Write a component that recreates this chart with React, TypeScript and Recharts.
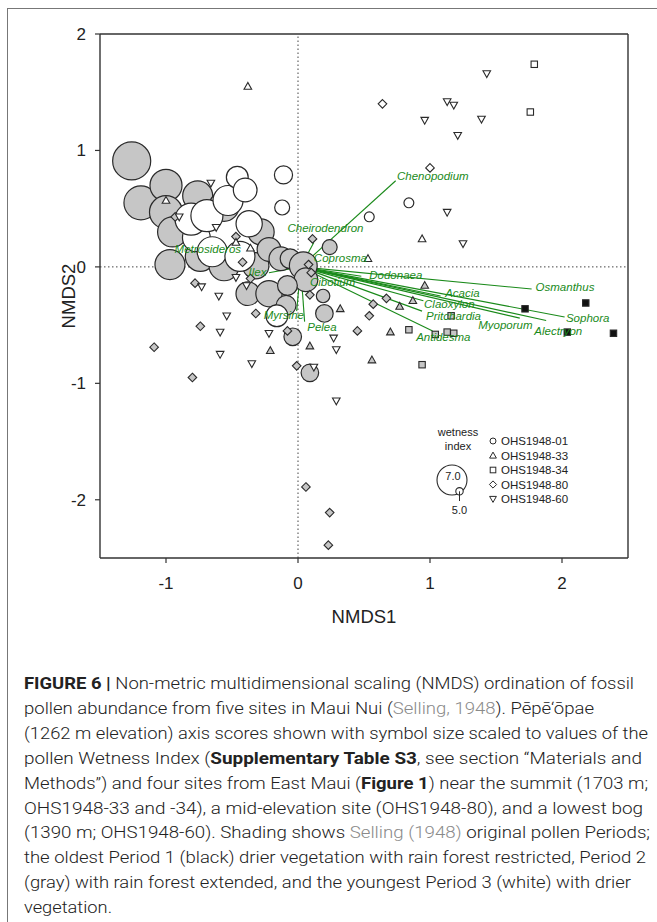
import React from 'react';
import { ScatterChart, Scatter, XAxis, YAxis, ReferenceLine } from 'recharts';

// ---- data -------------------------------------------------------------
// Pēpē'ōpae (OHS1948-01): [NMDS1, NMDS2, wetness index, period]
const site01: [number, number, number, string][] = [
  [-1.26, 0.91, 8.3, 'g'],
  [-1.19, 0.55, 7.6, 'g'],
  [-1.0, 0.7, 7.3, 'g'],
  [-1.0, 0.47, 7.45, 'g'],
  [-0.76, 0.61, 7.0, 'g'],
  [-0.95, 0.3, 7.0, 'g'],
  [-0.97, 0.02, 7.0, 'g'],
  [-0.56, 0.52, 7.0, 'g'],
  [-0.28, 0.3, 6.5, 'g'],
  [-0.74, 0.09, 7.0, 'g'],
  [-0.56, 0.01, 7.0, 'g'],
  [-0.32, 0.01, 6.5, 'g'],
  [-0.22, 0.15, 6.2, 'g'],
  [-0.13, 0.07, 6.2, 'g'],
  [-0.06, 0.07, 5.8, 'g'],
  [0.04, 0.01, 6.7, 'g'],
  [0.06, -0.11, 6.2, 'g'],
  [-0.38, -0.23, 6.2, 'g'],
  [-0.22, -0.23, 6.5, 'g'],
  [-0.08, -0.16, 5.8, 'g'],
  [-0.09, -0.33, 5.8, 'g'],
  [0.19, -0.25, 5.3, 'g'],
  [0.2, -0.4, 5.6, 'g'],
  [-0.04, -0.6, 5.6, 'g'],
  [0.09, -0.91, 5.6, 'g'],
  [0.24, 0.17, 5.4, 'g'],
  [-0.77, 0.25, 6.7, 'w'],
  [-0.81, 0.41, 7.3, 'w'],
  [-0.69, 0.44, 7.3, 'w'],
  [-0.53, 0.57, 7.0, 'w'],
  [-0.46, 0.77, 6.0, 'w'],
  [-0.4, 0.66, 6.2, 'w'],
  [-0.37, 0.37, 6.5, 'w'],
  [-0.11, 0.79, 5.65, 'w'],
  [-0.12, 0.51, 5.4, 'w'],
  [-0.65, 0.13, 7.0, 'w'],
  [-0.44, 0.09, 7.0, 'w'],
  [-0.16, -0.42, 6.0, 'w'],
  [0.84, 0.55, 5.1, 'w'],
  [0.54, 0.43, 5.1, 'w'],
];

// OHS1948-33 (triangle up): [NMDS1, NMDS2, period]
const site33: [number, number, string][] = [
  [-0.38, 1.55, 'w'], [-1.0, 0.57, 'w'], [-0.47, 0.21, 'w'], [-0.36, 0.16, 'w'],
  [0.94, 0.24, 'w'], [0.53, 0.07, 'w'], [0.96, -0.16, 'g'], [0.87, -0.29, 'g'],
  [0.77, -0.34, 'g'], [0.32, -0.36, 'g'], [0.7, -0.56, 'g'], [0.09, -0.68, 'g'],
  [0.56, -0.8, 'g'], [-0.21, -0.72, 'g'],
];

// OHS1948-34 (square)
const site34: [number, number, string][] = [
  [1.79, 1.74, 'w'], [1.76, 1.33, 'w'], [1.16, -0.42, 'g'], [0.84, -0.54, 'g'],
  [1.04, -0.58, 'g'], [1.13, -0.56, 'g'], [1.18, -0.57, 'g'], [0.94, -0.84, 'g'],
  [1.72, -0.36, 'b'], [2.18, -0.31, 'b'], [2.04, -0.56, 'b'], [2.39, -0.57, 'b'],
];

// OHS1948-80 (diamond)
const site80: [number, number, string][] = [
  [0.64, 1.4, 'w'], [1.0, 0.85, 'w'], [0.11, 0.24, 'g'], [-0.47, 0.26, 'g'],
  [-0.42, 0.04, 'g'], [-0.36, -0.1, 'g'], [-0.93, 0.43, 'g'], [0.08, 0.02, 'g'],
  [0.1, -0.05, 'g'], [0.09, -0.24, 'g'], [0.67, -0.27, 'g'], [0.57, -0.32, 'g'],
  [0.54, -0.42, 'g'], [0.45, -0.55, 'g'], [-0.08, -0.55, 'g'], [-0.01, -0.85, 'g'],
  [-0.78, -0.14, 'g'], [-0.32, -0.4, 'g'], [-0.74, -0.51, 'g'], [-1.09, -0.69, 'g'],
  [-0.8, -0.95, 'g'], [0.06, -1.89, 'g'], [0.24, -2.11, 'g'], [0.23, -2.39, 'g'],
];

// OHS1948-60 (triangle down)
const site60: [number, number, string][] = [
  [1.43, 1.66, 'w'], [1.13, 1.42, 'w'], [1.18, 1.39, 'w'], [0.96, 1.26, 'w'],
  [1.39, 1.27, 'w'], [1.21, 1.13, 'w'], [1.13, 0.47, 'w'], [1.25, 0.2, 'w'],
  [-0.66, 0.72, 'w'], [-0.9, 0.43, 'w'], [-0.62, 0.34, 'w'], [-0.47, -0.09, 'w'],
  [-0.39, -0.16, 'w'], [-0.73, -0.17, 'w'], [-0.6, -0.25, 'w'], [-0.54, -0.42, 'w'],
  [-0.59, -0.56, 'w'], [-0.22, -0.57, 'w'], [-0.59, -0.75, 'w'], [-0.35, -0.83, 'w'],
  [0.27, -0.61, 'w'], [0.29, -0.71, 'w'], [0.12, -0.86, 'w'], [0.29, -1.15, 'w'],
];

// Taxa vectors: [name, endX, endY, labelX, labelY]
const vectorOrigin = [0.02, 0.0];
const taxa: [string, number, number, number, number][] = [
  ['Chenopodium', 0.74, 0.74, 0.75, 0.78],
  ['Cheirodendron', 0.12, 0.21, -0.08, 0.33],
  ['Coprosma', 0.09, 0.06, 0.12, 0.075],
  ['Metrosideros', -0.4, 0.12, -0.935, 0.15],
  ['Ilex', -0.22, -0.05, -0.375, -0.045],
  ['Myrsine', -0.01, -0.38, -0.26, -0.41],
  ['Pelea', 0.05, -0.47, 0.07, -0.52],
  ['Cibotium', 0.1, -0.06, 0.09, -0.13],
  ['Dodonaea', 0.48, -0.08, 0.54, -0.07],
  ['Osmanthus', 1.77, -0.19, 1.8, -0.17],
  ['Acacia', 1.08, -0.25, 1.115, -0.225],
  ['Claoxylon', 0.95, -0.29, 0.955, -0.32],
  ['Pritchardia', 0.94, -0.38, 0.97, -0.42],
  ['Antidesma', 1.02, -0.55, 0.895, -0.6],
  ['Myoporum', 1.68, -0.44, 1.365, -0.5],
  ['Alectryon', 1.88, -0.46, 1.79, -0.55],
  ['Sophora', 2.02, -0.43, 2.03, -0.44],
];

const xTicks = [-1, 0, 1, 2];
const yTicks = [-2, -1, 0, 1, 2];
const siteNames = ['OHS1948-01', 'OHS1948-33', 'OHS1948-34', 'OHS1948-80', 'OHS1948-60'];
const wetnessLegend = [7.0, 5.0];

// ---- styling ------------------------------------------------------------
const FONT = 'Liberation Sans, Arial, Helvetica, sans-serif';
const GREEN = '#1a8a1a';
const STROKE = '#2a2a2a';
// symbol area scales linearly with wetness index (5.0 -> 43 px², 7.0 -> 707 px²)
const Z_DOMAIN: [number, number] = [5, 7];
const Z_RANGE: [number, number] = [43, 707];
const fillOf = (p: string) => (p === 'b' ? '#111' : p === 'g' ? '#c6c6c6' : '#fff');
const radiusOf = (z: number) => {
  const area = Z_RANGE[0] + ((z - Z_DOMAIN[0]) / (Z_DOMAIN[1] - Z_DOMAIN[0])) * (Z_RANGE[1] - Z_RANGE[0]);
  return Math.sqrt(Math.max(area, 1) / Math.PI);
};

const d01 = site01.map(([x, y, z, p]) => ({ x, y, z, p }));
const d33 = site33.map(([x, y, p]) => ({ x, y, p }));
const d34 = site34.map(([x, y, p]) => ({ x, y, p }));
const d80 = site80.map(([x, y, p]) => ({ x, y, p }));
const d60 = site60.map(([x, y, p]) => ({ x, y, p }));
const dLabels = taxa.map(([name, , , lx, ly]) => ({ x: lx, y: ly, name }));

const CircleShape = (props: any) => {
  const { cx, cy, payload } = props;
  if (cx == null || cy == null) return <g />;
  const r = radiusOf(payload.z);
  return <circle cx={cx} cy={cy} r={r} fill={fillOf(payload.p)} stroke={STROKE} strokeWidth={1.2} />;
};

const TriUp = (props: any) => {
  const { cx, cy, payload } = props;
  if (cx == null || cy == null) return <g />;
  const s = 4;
  return (
    <polygon
      points={`${cx},${cy - s} ${cx - s * 0.95},${cy + s * 0.7} ${cx + s * 0.95},${cy + s * 0.7}`}
      fill={fillOf(payload.p)} stroke={STROKE} strokeWidth={1.1}
    />
  );
};

const TriDown = (props: any) => {
  const { cx, cy, payload } = props;
  if (cx == null || cy == null) return <g />;
  const s = 4;
  return (
    <polygon
      points={`${cx},${cy + s} ${cx - s * 0.95},${cy - s * 0.7} ${cx + s * 0.95},${cy - s * 0.7}`}
      fill={fillOf(payload.p)} stroke={STROKE} strokeWidth={1.1}
    />
  );
};

const SquareShape = (props: any) => {
  const { cx, cy, payload } = props;
  if (cx == null || cy == null) return <g />;
  const s = 3.2;
  return <rect x={cx - s} y={cy - s} width={2 * s} height={2 * s} fill={fillOf(payload.p)} stroke={STROKE} strokeWidth={1.1} />;
};

const DiamondShape = (props: any) => {
  const { cx, cy, payload } = props;
  if (cx == null || cy == null) return <g />;
  const s = 4.3;
  return (
    <polygon
      points={`${cx},${cy - s} ${cx + s},${cy} ${cx},${cy + s} ${cx - s},${cy}`}
      fill={fillOf(payload.p)} stroke={STROKE} strokeWidth={1.1}
    />
  );
};

const LabelShape = (props: any) => {
  const { cx, cy, payload } = props;
  if (cx == null || cy == null) return <g />;
  return (
    <text x={cx} y={cy} dy="0.35em" fill={GREEN} fontSize={11.5} fontStyle="italic" fontFamily={FONT} textAnchor="start">
      {payload.name}
    </text>
  );
};

// ---- legend (drawn in page coordinates) -----------------------------------
const WetnessLegend = () => {
  const bigR = radiusOf(wetnessLegend[0]);
  const smallR = radiusOf(wetnessLegend[1]);
  const bottom = 495;
  const bigCx = 452;
  const smallCx = 459.5;
  const rows = [441, 455.5, 470, 484.5, 499];
  const symX = 493;
  return (
    <svg width={657} height={640} style={{ position: 'absolute', left: 0, top: 0, pointerEvents: 'none' }}>
      <g fontFamily={FONT} fontSize={11} fill="#222">
        <text x={458} y={432} textAnchor="middle" dy="0.35em">wetness</text>
        <text x={458} y={446} textAnchor="middle" dy="0.35em">index</text>
        <circle cx={bigCx} cy={bottom - bigR} r={bigR} fill="none" stroke={STROKE} strokeWidth={1.1} />
        <text x={bigCx + 1} y={476} textAnchor="middle" dy="0.35em">{wetnessLegend[0].toFixed(1)}</text>
        <circle cx={smallCx} cy={bottom - smallR} r={smallR} fill="#fff" stroke={STROKE} strokeWidth={1.1} />
        <line x1={smallCx} y1={bottom - smallR} x2={smallCx} y2={501} stroke={STROKE} strokeWidth={1} />
        <text x={smallCx} y={510} textAnchor="middle" dy="0.35em">{wetnessLegend[1].toFixed(1)}</text>
        {siteNames.map((n, i) => (
          <text key={n} x={501} y={rows[i]} dy="0.35em" fontSize={11.5}>{n}</text>
        ))}
        <circle cx={symX} cy={rows[0]} r={3} fill="#fff" stroke={STROKE} strokeWidth={1} />
        <polygon points={`${symX},${rows[1] - 3.4} ${symX - 3.4},${rows[1] + 2.6} ${symX + 3.4},${rows[1] + 2.6}`} fill="#fff" stroke={STROKE} strokeWidth={1} />
        <rect x={symX - 2.8} y={rows[2] - 2.8} width={5.6} height={5.6} fill="#fff" stroke={STROKE} strokeWidth={1} />
        <polygon points={`${symX},${rows[3] - 3.6} ${symX + 3.6},${rows[3]} ${symX},${rows[3] + 3.6} ${symX - 3.6},${rows[3]}`} fill="#fff" stroke={STROKE} strokeWidth={1} />
        <polygon points={`${symX},${rows[4] + 3.4} ${symX - 3.4},${rows[4] - 2.6} ${symX + 3.4},${rows[4] - 2.6}`} fill="#fff" stroke={STROKE} strokeWidth={1} />
      </g>
    </svg>
  );
};

// ---- caption ----------------------------------------------------------------
type Seg = { t: string; b?: boolean; link?: boolean };
const captionLines: { segs: Seg[]; w: number }[] = [
  { segs: [{ t: 'FIGURE 6 | ', b: true }, { t: 'Non-metric multidimensional scaling (NMDS) ordination of fossil' }], w: 610 },
  { segs: [{ t: 'pollen abundance from five sites in Maui Nui (' }, { t: 'Selling, 1948', link: true }, { t: '). Pēpē‘ōpae' }], w: 570 },
  { segs: [{ t: '(1262 m elevation) axis scores shown with symbol size scaled to values of the' }], w: 624 },
  { segs: [{ t: 'pollen Wetness Index (' }, { t: 'Supplementary Table S3', b: true }, { t: ', see section “Materials and' }], w: 618 },
  { segs: [{ t: 'Methods”) and four sites from East Maui (' }, { t: 'Figure 1', b: true }, { t: ') near the summit (1703 m;' }], w: 624 },
  { segs: [{ t: 'OHS1948-33 and -34), a mid-elevation site (OHS1948-80), and a lowest bog' }], w: 619 },
  { segs: [{ t: '(1390 m; OHS1948-60). Shading shows ' }, { t: 'Selling (1948)', link: true }, { t: ' original pollen Periods;' }], w: 626 },
  { segs: [{ t: 'the oldest Period 1 (black) drier vegetation with rain forest restricted, Period 2' }], w: 622 },
  { segs: [{ t: '(gray) with rain forest extended, and the youngest Period 3 (white) with drier' }], w: 607 },
  { segs: [{ t: 'vegetation.' }], w: 88 },
];

const Caption = () => (
  <svg width={657} height={280} style={{ position: 'absolute', left: 0, top: 660 }}>
    {captionLines.map((line, i) => (
      <text
        key={i}
        x={24}
        y={29 + i * 24.9}
        fontFamily="Roboto, 'Liberation Sans', sans-serif"
        fontWeight={300}
        fontSize={17}
        fill="#222"
        textLength={line.w}
        lengthAdjust="spacingAndGlyphs"
      >
        {line.segs.map((s, j) => (
          <tspan key={j} fontWeight={s.b ? 700 : 300} fill={s.link ? '#8a8a8a' : '#222'}>
            {s.t}
          </tspan>
        ))}
      </text>
    ))}
  </svg>
);

// ---- chart ------------------------------------------------------------------
export default function App() {
  const axisStyle = { fontSize: 17, fill: '#222', fontFamily: FONT };
  return (
    <div style={{ position: 'fixed', left: 0, top: 0, width: 657, height: 922, background: '#fff', overflow: 'hidden' }}>
      <div
        style={{
          position: 'absolute', left: 7, top: 8, width: 700, height: 960,
          borderLeft: '1.3px solid #777', borderTop: '1.3px solid #777',
        }}
      />
      <div style={{ position: 'absolute', left: 0, top: 0 }}>
        <ScatterChart width={657} height={628} margin={{ top: 34, right: 29, bottom: 5, left: 50 }}>
          <XAxis
            type="number" dataKey="x" domain={[-1.5, 2.5]} ticks={xTicks} allowDataOverflow
            height={65} tickSize={5} tickMargin={14} stroke="#333" strokeWidth={1.4}
            tick={axisStyle} tickLine={{ stroke: '#333', strokeWidth: 1.2 }}
            label={{ value: 'NMDS1', position: 'insideBottom', offset: 0, style: { fontSize: 18.5, fill: '#222', fontFamily: FONT } }}
          />
          <YAxis
            type="number" dataKey="y" domain={[-2.5, 2]} ticks={yTicks} allowDataOverflow
            width={50} tickSize={5} tickMargin={9} stroke="#333" strokeWidth={1.4}
            tick={axisStyle} tickLine={{ stroke: '#333', strokeWidth: 1.2 }}
            label={{ value: 'NMDS2', angle: -90, position: 'insideLeft', offset: 18, style: { fontSize: 18.5, fill: '#222', fontFamily: FONT, textAnchor: 'middle' } }}
          />
          <ReferenceLine y={2} stroke="#333" strokeWidth={1.4} ifOverflow="visible" />
          <ReferenceLine x={2.5} stroke="#333" strokeWidth={1.4} ifOverflow="visible" />
          <ReferenceLine x={0} stroke="#444" strokeDasharray="1.5 2.5" />
          <ReferenceLine y={0} stroke="#444" strokeDasharray="1.5 2.5" />
          <Scatter data={d01} shape={CircleShape} isAnimationActive={false} />
          <Scatter data={d80} shape={DiamondShape} isAnimationActive={false} />
          <Scatter data={d33} shape={TriUp} isAnimationActive={false} />
          <Scatter data={d34} shape={SquareShape} isAnimationActive={false} />
          <Scatter data={d60} shape={TriDown} isAnimationActive={false} />
          {taxa.map(([name, ex, ey]) => (
            <ReferenceLine
              key={name}
              segment={[{ x: vectorOrigin[0], y: vectorOrigin[1] }, { x: ex, y: ey }]}
              stroke={GREEN}
              strokeWidth={1.1}
            />
          ))}
          <Scatter data={dLabels} shape={LabelShape} isAnimationActive={false} />
        </ScatterChart>
      </div>
      <WetnessLegend />
      <Caption />
    </div>
  );
}
